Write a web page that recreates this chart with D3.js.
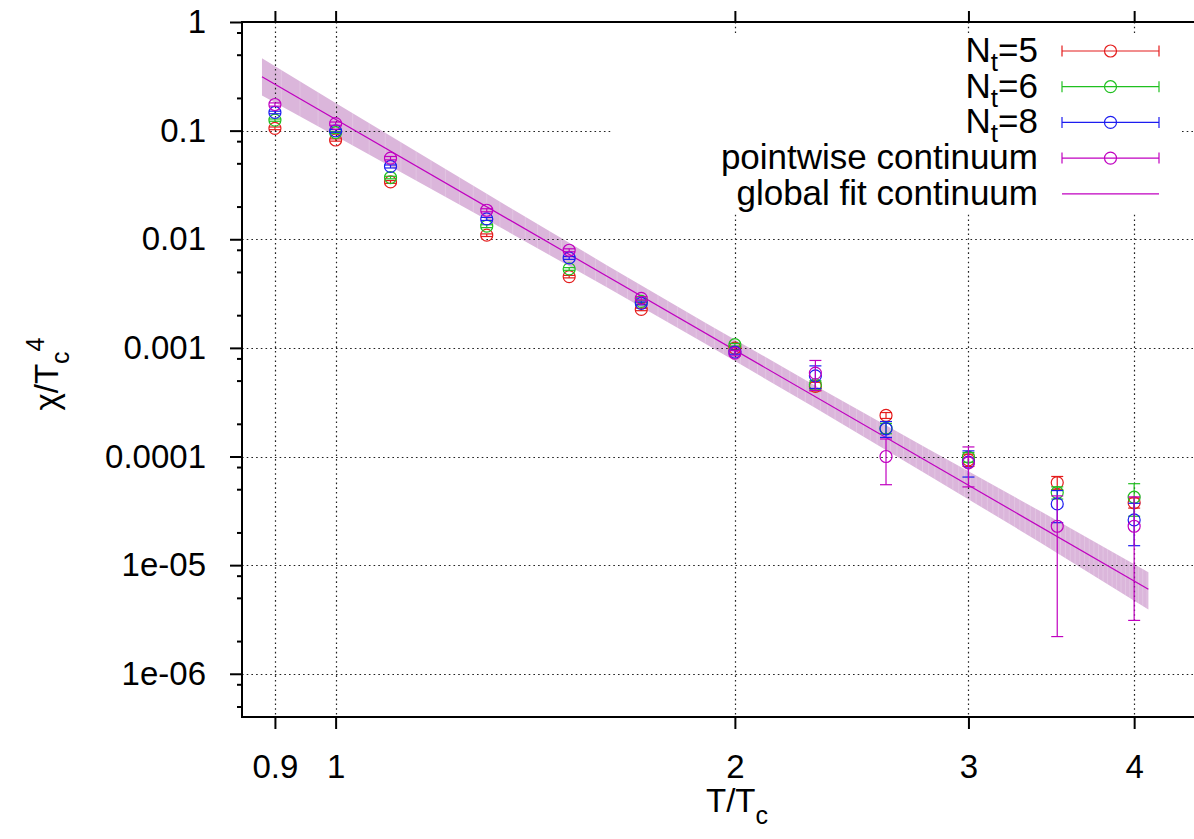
<!DOCTYPE html>
<html>
<head>
<meta charset="utf-8">
<script src="https://cdn.jsdelivr.net/npm/d3@7"></script>
<style>
  body { margin: 0; background: #fff; }
  svg text { font-family: "Liberation Sans", Arial, sans-serif; fill: #000; }
</style>
</head>
<body>
<div id="chart"></div>
<script>
// temperatures T/Tc of the measured points
var temps = [0.9, 1.0, 1.1, 1.3, 1.5, 1.7, 2.0, 2.3, 2.6, 3.0, 3.5, 4.0];

// chi/Tc^4 for each lattice size and the pointwise continuum
var nt5 = [0.105, 0.082, 0.0337, 0.0109, 0.00453, 0.00226, 0.000996, 0.000442, 0.000239, 9.3e-5, 5.75e-5, 3.75e-5];
var nt5Err = [0.003, 0.002, 0.001, 0.0003, 0.00012, 0.00006, 0.00003, 0.00004, 0.000015, 0.000012, 0.000008, 0.000004];
var nt6 = [0.125, 0.096, 0.037, 0.0132, 0.00533, 0.00268, 0.00107, 0.000458, 0.000182, 9.86e-5, 4.66e-5, 4.22e-5];
var nt6Err = [0.003, 0.002, 0.001, 0.0004, 0.00015, 0.00007, 0.00003, 0.00004, 0.00002, 0.00001, 0.000006, 0.000014];
var nt8 = [0.147, 0.0996, 0.0468, 0.0154, 0.00673, 0.00257, 0.000915, 0.000553, 0.00018, 8.87e-5, 3.66e-5, 2.61e-5];
var nt8Err = [0.004, 0.003, 0.0015, 0.0005, 0.0002, 0.00008, 0.00004, 0.00013, 0.00003, 0.000024, 0.000012, 0.000011];
var pointwise = [0.174, 0.116, 0.0558, 0.0185, 0.00792, 0.00286, 0.000895, 0.000586, 0.0001, 8.75e-5, 2.28e-5, 2.28e-5];
var pointwiseErr = [0.006, 0.004, 0.002, 0.0006, 0.00025, 0.0001, 0.00005, 0.00018, 0.000045, 0.000035, 0.0000206, 0.0000197];

// global fit line (straight in log-log) and its error band
var fitT = [0.88, 4.1];
var fitVal = [0.313, 6.0e-6];
var bandT = [0.88, 1.0, 1.3, 1.6, 1.9, 2.3, 2.8, 3.4, 4.1];
var bandHi = [0.463, 0.180, 0.0262, 0.00581, 0.001706, 0.000449, 0.0001164, 3.13e-5, 8.6e-6];
var bandLo = [0.211, 0.0893, 0.01514, 0.00363, 0.001091, 0.000279, 6.70e-5, 1.61e-5, 3.9e-6];

// axes
var xTicks = [0.9, 1, 2, 3, 4];
var xTickLabels = ["0.9", "1", "2", "3", "4"];
var yTicks = [1, 0.1, 0.01, 0.001, 0.0001, 1e-5, 1e-6];
var yTickLabels = ["1", "0.1", "0.01", "0.001", "0.0001", "1e-05", "1e-06"];

var seriesNames = ["Nt=5", "Nt=6", "Nt=8", "pointwise continuum"];
var seriesColors = ["#e41c1c", "#20c020", "#1c1cf0", "#c000c0"];

var width = 1194, height = 839;
var pLeft = 242, pRight = 1202, pTop = 22, pBottom = 717;

var svg = d3.select("#chart").append("svg")
    .attr("width", width)
    .attr("height", height);

var x = d3.scaleLog().domain([0.85, 4.5]).range([pLeft, pRight]);
var y = d3.scaleLog().domain([4e-7, 1]).range([pBottom, pTop]);

var plot = svg.append("g");

// band
var bandData = bandT.map(function(t, i) { return {t: t, hi: bandHi[i], lo: bandLo[i]}; });
var area = d3.area()
    .x(function(d) { return x(d.t); })
    .y0(function(d) { return y(d.lo); })
    .y1(function(d) { return y(d.hi); });

svg.append("clipPath").attr("id", "bandclip")
    .append("path").attr("d", area(bandData));

plot.append("path")
    .attr("d", area(bandData))
    .attr("fill", "#dbb6db");

// faint seams between the filled slices, like the original renderer leaves
plot.append("g").attr("clip-path", "url(#bandclip)")
    .selectAll("line")
    .data(d3.range(0.91, 4.1, 0.03))
    .enter().append("line")
    .attr("x1", function(d) { return x(d); })
    .attr("x2", function(d) { return x(d); })
    .attr("y1", pTop)
    .attr("y2", pBottom)
    .attr("stroke", "#fff")
    .attr("stroke-opacity", 0.2)
    .attr("stroke-width", 1);

// grid
var grid = plot.append("g")
    .attr("stroke", "#222")
    .attr("stroke-width", 1.2)
    .attr("stroke-dasharray", "1.6,3.1");
grid.selectAll(".gx").data(xTicks).enter().append("line")
    .attr("x1", function(d) { return Math.round(x(d)) + 0.5; })
    .attr("x2", function(d) { return Math.round(x(d)) + 0.5; })
    .attr("y1", pTop).attr("y2", pBottom);
grid.selectAll(".gy").data(yTicks).enter().append("line")
    .attr("y1", function(d) { return Math.round(y(d)) + 0.5; })
    .attr("y2", function(d) { return Math.round(y(d)) + 0.5; })
    .attr("x1", pLeft).attr("x2", pRight);

// fit line
plot.append("path")
    .datum(fitT.map(function(t, i) { return [t, fitVal[i]]; }))
    .attr("d", d3.line().x(function(d) { return x(d[0]); }).y(function(d) { return y(d[1]); }))
    .attr("fill", "none")
    .attr("stroke", "#c000c0")
    .attr("stroke-width", 1.2);

// points with error bars
var allVals = [nt5, nt6, nt8, pointwise];
var allErr = [nt5Err, nt6Err, nt8Err, pointwiseErr];
var cap = 6;

allVals.forEach(function(vals, s) {
    var col = seriesColors[s];
    var pts = temps.map(function(t, i) { return {t: t, v: vals[i], e: allErr[s][i]}; });
    var g = plot.append("g").attr("stroke", col).attr("fill", "none").attr("stroke-width", 1.2);

    g.selectAll(".bar").data(pts).enter().append("line")
        .attr("x1", function(d) { return x(d.t); })
        .attr("x2", function(d) { return x(d.t); })
        .attr("y1", function(d) { return y(d.v + d.e); })
        .attr("y2", function(d) { return y(Math.max(d.v - d.e, 1e-9)); });
    g.selectAll(".capHi").data(pts).enter().append("line")
        .attr("x1", function(d) { return x(d.t) - cap; })
        .attr("x2", function(d) { return x(d.t) + cap; })
        .attr("y1", function(d) { return y(d.v + d.e); })
        .attr("y2", function(d) { return y(d.v + d.e); });
    g.selectAll(".capLo").data(pts).enter().append("line")
        .attr("x1", function(d) { return x(d.t) - cap; })
        .attr("x2", function(d) { return x(d.t) + cap; })
        .attr("y1", function(d) { return y(d.v - d.e); })
        .attr("y2", function(d) { return y(d.v - d.e); });
    g.selectAll("circle").data(pts).enter().append("circle")
        .attr("cx", function(d) { return x(d.t); })
        .attr("cy", function(d) { return y(d.v); })
        .attr("r", 6);
});

// legend (opaque box hides the grid behind it)
var legend = svg.append("g");
legend.append("rect")
    .attr("x", 613).attr("y", 33)
    .attr("width", 567).attr("height", 179)
    .attr("fill", "#fff");

var rowY = function(i) { return 51 + i * 35.7; };
var legendNames = seriesNames.concat(["global fit continuum"]);
legendNames.forEach(function(name, i) {
    var ly = rowY(i);
    var txt = legend.append("text")
        .attr("x", 1038).attr("y", ly + 11)
        .attr("text-anchor", "end")
        .style("font-size", "35px");
    if (name.indexOf("Nt=") === 0) {
        txt.append("tspan").text("N");
        txt.append("tspan").attr("dy", 9).style("font-size", "26px").text("t");
        txt.append("tspan").attr("dy", -9).text(name.slice(2));
    } else {
        txt.text(name);
    }
    var col = i < 4 ? seriesColors[i] : "#c000c0";
    var g = legend.append("g").attr("stroke", col).attr("fill", "none").attr("stroke-width", 1.2);
    g.append("line").attr("x1", 1062).attr("x2", 1159).attr("y1", ly).attr("y2", ly);
    if (i < 4) {
        g.append("line").attr("x1", 1062).attr("x2", 1062).attr("y1", ly - 5.5).attr("y2", ly + 5.5);
        g.append("line").attr("x1", 1159).attr("x2", 1159).attr("y1", ly - 5.5).attr("y2", ly + 5.5);
        g.append("circle").attr("cx", 1110.5).attr("cy", ly).attr("r", 6);
    }
});

// axes
var minorY = [];
yTicks.forEach(function(d) { [8, 5, 2].forEach(function(m) { minorY.push(d * m / 10); }); });
minorY = minorY.filter(function(d) { return d >= 4e-7 && d <= 1; });

svg.append("g")
    .attr("transform", "translate(" + pLeft + ",0)")
    .call(d3.axisLeft(y).tickValues(yTicks)
        .tickFormat(function(d, i) { return yTickLabels[i]; })
        .tickSize(12).tickPadding(24));
svg.append("g")
    .attr("transform", "translate(" + pLeft + ",0)")
    .call(d3.axisLeft(y).tickValues(minorY).tickFormat("").tickSize(5));

svg.append("g")
    .attr("transform", "translate(0," + pBottom + ")")
    .call(d3.axisBottom(x).tickValues(xTicks)
        .tickFormat(function(d, i) { return xTickLabels[i]; })
        .tickSize(12).tickPadding(26));
svg.append("g")
    .attr("transform", "translate(0," + pTop + ")")
    .call(d3.axisTop(x).tickValues(xTicks).tickFormat("").tickSize(11));

svg.selectAll(".domain").remove();
svg.selectAll(".tick line").attr("stroke", "#000").attr("stroke-width", 2);
svg.selectAll(".tick text")
    .style("font-size", "33px")
    .style("font-family", "'Liberation Sans', Arial, sans-serif");

// frame
svg.append("rect")
    .attr("x", pLeft).attr("y", pTop)
    .attr("width", pRight - pLeft).attr("height", pBottom - pTop)
    .attr("fill", "none")
    .attr("stroke", "#000")
    .attr("stroke-width", 2);

// axis titles
var xTitle = svg.append("text")
    .attr("x", 737).attr("y", 812)
    .attr("text-anchor", "middle")
    .style("font-size", "33px");
xTitle.append("tspan").text("T/T");
xTitle.append("tspan").attr("dy", 12).style("font-size", "25px").text("c");

var yTitle = svg.append("text")
    .attr("transform", "translate(58,374) rotate(-90)")
    .attr("text-anchor", "middle")
    .style("font-size", "33px");
yTitle.append("tspan").text("\u03c7/T");
yTitle.append("tspan").attr("dy", 11).style("font-size", "25px").text("c");
yTitle.append("tspan").attr("dy", -25).style("font-size", "25px").text("4");
</script>
</body>
</html>
